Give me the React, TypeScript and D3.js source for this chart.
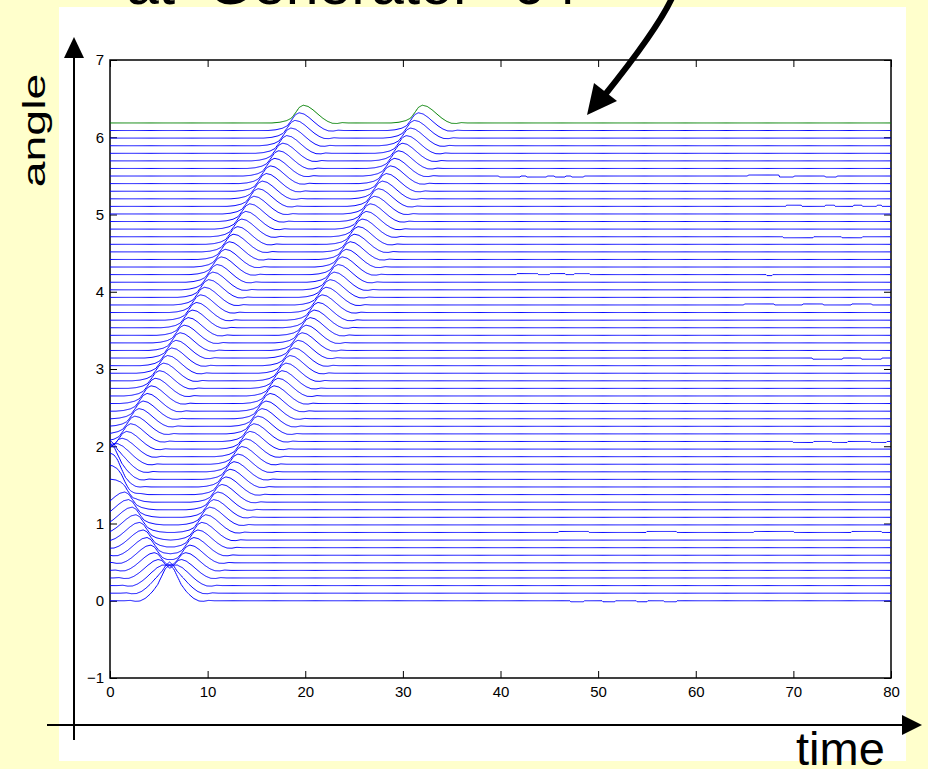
import * as d3 from 'd3';
import { useEffect, useRef } from 'react';

const WIDTH = 928;
const HEIGHT = 769;

// rest angle of every generator (rad), generator 1 at the bottom, generator 64 on top
const baseAngles = [
  0, 0.098, 0.196, 0.295, 0.393, 0.491, 0.589, 0.687, 0.785, 0.884, 0.982, 1.08, 1.178, 1.276, 1.374, 1.473,
  1.571, 1.669, 1.767, 1.865, 1.963, 2.062, 2.16, 2.258, 2.356, 2.454, 2.553, 2.651, 2.749, 2.847, 2.945, 3.043,
  3.142, 3.24, 3.338, 3.436, 3.534, 3.632, 3.731, 3.829, 3.927, 4.025, 4.123, 4.222, 4.32, 4.418, 4.516, 4.614,
  4.712, 4.811, 4.909, 5.007, 5.105, 5.203, 5.301, 5.4, 5.498, 5.596, 5.694, 5.792, 5.89, 5.989, 6.087, 6.185
];

// time of the peak of each pulse on each generator (null = pulse never reaches it)
const firstUpPeak = [
  null, null, null, null, null, null, null, null, null, null, null, null, null, -1.26, -0.84, -0.42,
  0, 0.42, 0.84, 1.26, 1.68, 2.11, 2.53, 2.95, 3.37, 3.79, 4.21, 4.63, 5.05, 5.47, 5.89, 6.31,
  6.74, 7.16, 7.58, 8.0, 8.42, 8.84, 9.26, 9.68, 10.1, 10.52, 10.95, 11.37, 11.79, 12.21, 12.63, 13.05,
  13.47, 13.89, 14.31, 14.73, 15.16, 15.58, 16.0, 16.42, 16.84, 17.26, 17.68, 18.1, 18.52, 18.94, 19.37, 19.79
];
const downPeak = [
  6.08, 5.7, 5.32, 4.94, 4.56, 4.18, 3.8, 3.42, 3.04, 2.66, 2.28, 1.9, 1.52, 1.14, 0.76, 0.38,
  0, -0.38, -0.76, -1.14
];
const secondUpPeak = [
  6.1, 6.51, 6.92, 7.33, 7.74, 8.16, 8.57, 8.98, 9.39, 9.8, 10.21, 10.62, 11.03, 11.44, 11.85, 12.27,
  12.68, 13.09, 13.5, 13.91, 14.32, 14.73, 15.14, 15.55, 15.96, 16.38, 16.79, 17.2, 17.61, 18.02, 18.43, 18.84,
  19.25, 19.66, 20.07, 20.49, 20.9, 21.31, 21.72, 22.13, 22.54, 22.95, 23.36, 23.77, 24.18, 24.6, 25.01, 25.42,
  25.83, 26.24, 26.65, 27.06, 27.47, 27.88, 28.29, 28.71, 29.12, 29.53, 29.94, 30.35, 30.76, 31.17, 31.58, 31.99
];
const pulseHeight = 0.23;

// pulse shape (time from the peak, fraction of the height)
const pulseShapeTime = [-3.2, -2.4, -1.7, -1.2, -0.8, -0.4, 0, 0.5, 1.0, 1.5, 2.0, 2.5, 3.0, 3.5, 4.0, 4.6];
const pulseShapeValue = [0, 0.04, 0.13, 0.27, 0.56, 0.88, 1, 0.93, 0.74, 0.5, 0.27, 0.09, -0.02, -0.03, 0.02, 0];

// small late wiggles: generator index, from, to, offset
const wiggleGen = [56, 56, 56, 56, 56, 56, 56, 52, 52, 52, 52, 43, 43, 43, 43, 0, 0, 0, 0, 9, 9, 9, 9, 21, 21, 21, 32, 32, 39, 39, 39, 48, 48];
const wiggleFrom = [39.9, 42.7, 45.6, 47.3, 65.4, 68.6, 73.3, 69.3, 73.3, 76.2, 78.6, 41.7, 45.1, 47.6, 67.3, 47.2, 50.5, 54.0, 56.8, 46, 55, 66, 76, 70, 74, 78, 72, 77, 65, 71, 76, 69, 75];
const wiggleTo = [42.0, 44.7, 46.6, 48.5, 68.6, 70.0, 74.4, 70.8, 74.2, 77.0, 79.1, 43.9, 46.6, 49.1, 67.8, 48.5, 51.8, 55.0, 58.0, 49, 58, 70, 79, 72, 75.5, 79.5, 75, 79, 68, 73, 78, 72, 77];
const wiggleSize = [-0.013, -0.013, -0.013, -0.013, 0.013, -0.013, -0.013, 0.015, 0.015, 0.015, 0.015, 0.013, 0.013, 0.013, -0.013, -0.013, -0.013, -0.013, -0.013, 0.013, 0.013, 0.013, 0.013, -0.013, -0.013, -0.013, -0.015, -0.015, 0.013, 0.013, 0.013, -0.013, -0.013];

const xTicks = [0, 10, 20, 30, 40, 50, 60, 70, 80];
const yTicks = [-1, 0, 1, 2, 3, 4, 5, 6, 7];

const FONT = '"Liberation Sans", Arial, sans-serif';
const plot = { left: 110, right: 891, top: 60, bottom: 678 };

type Svg = d3.Selection<SVGSVGElement, unknown, null, undefined>;

export default function App() {
  const svgRef = useRef<SVGSVGElement>(null);

  useEffect(() => {
    if (!svgRef.current) return;
    const svg = d3.select(svgRef.current);
    svg.selectAll('*').remove();

    const xScale = d3.scaleLinear().domain([0, 80]).range([plot.left, plot.right]);
    const yScale = d3.scaleLinear().domain([-1, 7]).range([plot.bottom, plot.top]);

    drawBackground(svg);
    drawAxes(svg, xScale, yScale);
    drawTraces(svg, xScale, yScale);
    drawDecorations(svg);
  }, []);

  const drawBackground = (svg: Svg) => {
    svg.append('rect').attr('width', WIDTH).attr('height', HEIGHT).attr('fill', '#ffffcc');
    svg.append('rect').attr('x', 59).attr('y', 7).attr('width', 847).attr('height', 754).attr('fill', '#ffffff');
  };

  const drawAxes = (
    svg: Svg,
    xScale: d3.ScaleLinear<number, number>,
    yScale: d3.ScaleLinear<number, number>
  ) => {
    const style = (g: d3.Selection<SVGGElement, unknown, null, undefined>) => {
      g.select('.domain').remove();
      g.attr('font-family', FONT).attr('font-size', 15);
      g.selectAll('.tick line').attr('stroke', '#000').attr('stroke-width', 1);
      g.selectAll('.tick text').attr('fill', '#000');
    };

    svg.append('g')
      .attr('transform', `translate(0,${plot.bottom})`)
      .call(d3.axisBottom(xScale).tickValues(xTicks).tickSizeInner(-7).tickSizeOuter(0).tickPadding(8))
      .call(style);
    svg.append('g')
      .attr('transform', `translate(0,${plot.top})`)
      .call(d3.axisTop(xScale).tickValues(xTicks).tickSizeInner(-7).tickSizeOuter(0).tickFormat(() => ''))
      .call(style);
    svg.append('g')
      .attr('transform', `translate(${plot.left},0)`)
      .call(d3.axisLeft(yScale).tickValues(yTicks).tickSizeInner(-7).tickSizeOuter(0).tickPadding(6))
      .call(style);
    svg.append('g')
      .attr('transform', `translate(${plot.right},0)`)
      .call(d3.axisRight(yScale).tickValues(yTicks).tickSizeInner(-7).tickSizeOuter(0).tickFormat(() => ''))
      .call(style);

    svg.append('rect')
      .attr('x', plot.left)
      .attr('y', plot.top)
      .attr('width', plot.right - plot.left)
      .attr('height', plot.bottom - plot.top)
      .attr('fill', 'none')
      .attr('stroke', '#000')
      .attr('stroke-width', 1.5);
  };

  const drawTraces = (
    svg: Svg,
    xScale: d3.ScaleLinear<number, number>,
    yScale: d3.ScaleLinear<number, number>
  ) => {
    const shape = d3.scaleLinear().domain(pulseShapeTime).range(pulseShapeValue).clamp(true);
    const times = d3.range(0, 80.0001, 0.1);

    const angleAt = (gen: number, t: number) => {
      let a = baseAngles[gen];
      const up1 = firstUpPeak[gen];
      const down = downPeak[gen];
      const up2 = secondUpPeak[gen];
      if (up1 != null) a += pulseHeight * shape(t - up1);
      if (down != null) a += pulseHeight * shape(down - t);
      if (up2 != null) a += pulseHeight * shape(t - up2);
      wiggleGen.forEach((g, i) => {
        if (g === gen && t >= wiggleFrom[i] && t <= wiggleTo[i]) a += wiggleSize[i];
      });
      return a;
    };

    svg.append('g')
      .selectAll('path')
      .data(baseAngles.map((_, gen) => gen))
      .enter()
      .append('path')
      .attr('d', (gen) =>
        d3
          .line<number>()
          .x((t) => xScale(t))
          .y((t) => yScale(angleAt(gen, t)))(times)
      )
      .attr('fill', 'none')
      .attr('stroke', (gen) => (gen === baseAngles.length - 1 ? '#008000' : '#0000ff'))
      .attr('stroke-width', 1);
  };

  const drawDecorations = (svg: Svg) => {
    // cut-off heading at the top of the slide
    const heading = svg.append('g').attr('font-family', FONT).attr('font-size', 59).attr('fill', '#000');
    heading.append('text').attr('x', 126).attr('y', 4).text('at');
    heading.append('text').attr('x', 207).attr('y', 4).text('Generator');
    heading.append('text').attr('x', 512).attr('y', 4).text('64');

    // drawn axis arrows
    svg.append('line').attr('x1', 74).attr('y1', 50).attr('x2', 74).attr('y2', 740).attr('stroke', '#000').attr('stroke-width', 2);
    svg.append('path').attr('d', 'M74,37 L64,58 L84,58 Z').attr('fill', '#000');
    svg.append('line').attr('x1', 47).attr('y1', 725).attr('x2', 908).attr('y2', 725).attr('stroke', '#000').attr('stroke-width', 2);
    svg.append('path').attr('d', 'M922,725 L902,715 L902,735 Z').attr('fill', '#000');

    svg.append('text')
      .attr('transform', 'translate(45,130.5) rotate(-90) scale(1.45,1)')
      .attr('text-anchor', 'middle')
      .attr('font-family', FONT)
      .attr('font-size', 32)
      .text('angle');
    svg.append('text')
      .attr('x', 796)
      .attr('y', 765)
      .attr('font-family', FONT)
      .attr('font-size', 47)
      .text('time');

    // pointer to the trace of generator 64
    svg.append('path')
      .attr('d', 'M672,-2 Q657,30 604,96')
      .attr('fill', 'none')
      .attr('stroke', '#000')
      .attr('stroke-width', 6);
    svg.append('path').attr('d', 'M587,115 L594,83 L617,101 Z').attr('fill', '#000');
  };

  return (
    <div style={{ position: 'absolute', left: 0, top: 0 }}>
      <svg ref={svgRef} width={WIDTH} height={HEIGHT} />
    </div>
  );
}
